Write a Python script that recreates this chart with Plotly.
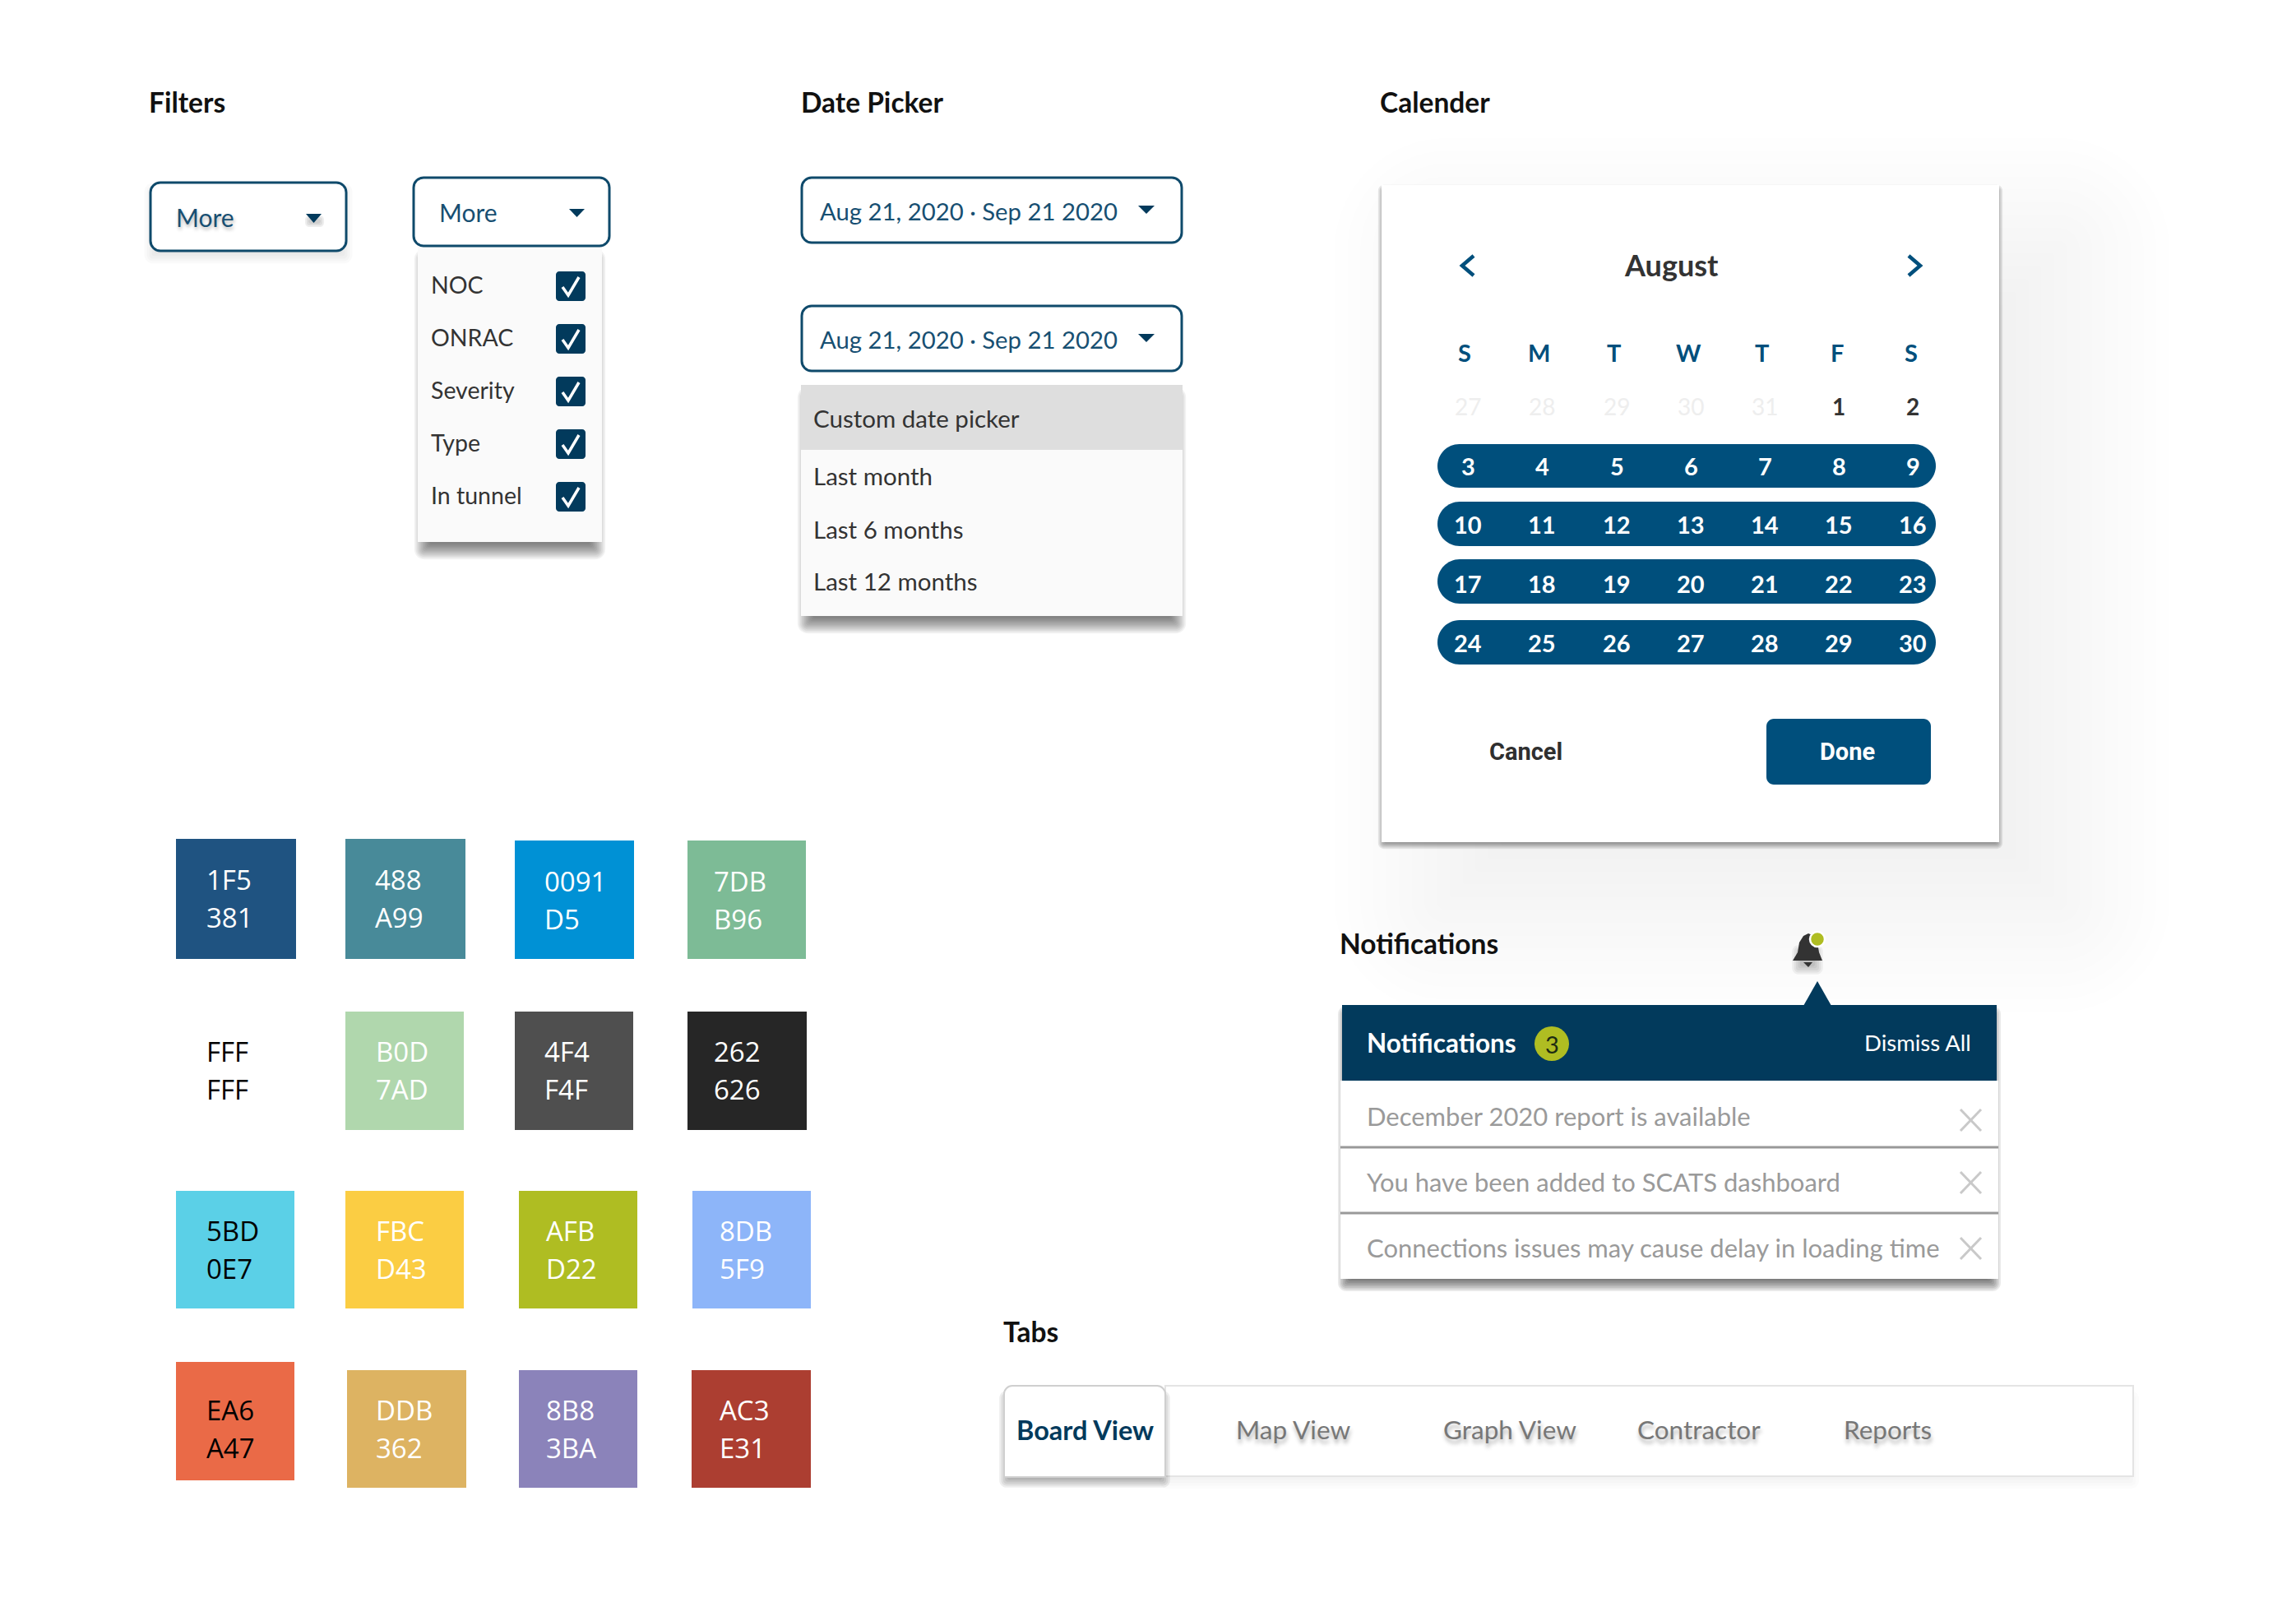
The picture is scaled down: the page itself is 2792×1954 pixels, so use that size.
import plotly.graph_objects as go

W = 2792
H = 1954

NAVY = "#023a5c"
BLUE = "#004f7c"
BORDER = "#0f4a6b"
SANS = "Lato"
ROBOTO = "Roboto"
SWATCH_FONT = "Open Sans"

swatch_labels = [
    ["1F5", "381"], ["488", "A99"], ["0091", "D5"], ["7DB", "B96"],
    ["FFF", "FFF"], ["B0D", "7AD"], ["4F4", "F4F"], ["262", "626"],
    ["5BD", "0E7"], ["FBC", "D43"], ["AFB", "D22"], ["8DB", "5F9"],
    ["EA6", "A47"], ["DDB", "362"], ["8B8", "3BA"], ["AC3", "E31"],
]
swatch_colors = [
    "#1F5381", "#488A99", "#0091D5", "#7DBB96",
    "#FFFFFF", "#B0D7AD", "#4F4F4F", "#262626",
    "#5BD0E7", "#FBCD43", "#AFBD22", "#8DB5F9",
    "#EA6A47", "#DDB362", "#8B83BA", "#AC3E31",
]
swatch_text_colors = [
    "#fff", "#fff", "#fff", "#fff",
    "#000", "#fff", "#fff", "#fff",
    "#000", "#fff", "#fff", "#fff",
    "#000", "#fff", "#fff", "#fff",
]
filter_items = ["NOC", "ONRAC", "Severity", "Type", "In tunnel"]
date_range = "Aug 21, 2020 · Sep 21 2020"
date_options = ["Custom date picker", "Last month", "Last 6 months", "Last 12 months"]
weekdays = ["S", "M", "T", "W", "T", "F", "S"]
prev_days = ["27", "28", "29", "30", "31", "1", "2"]
week_rows = [
    ["3", "4", "5", "6", "7", "8", "9"],
    ["10", "11", "12", "13", "14", "15", "16"],
    ["17", "18", "19", "20", "21", "22", "23"],
    ["24", "25", "26", "27", "28", "29", "30"],
]
notification_msgs = [
    "December 2020 report is available",
    "You have been added to SCATS dashboard",
    "Connections issues may cause delay in loading time",
]
tab_names = ["Board View", "Map View", "Graph View", "Contractor", "Reports"]

shapes = []
notes = []


def round_path(x0, y0, x1, y1, r, top_only=False):
    r = min(r, (x1 - x0) / 2, (y1 - y0) / 2)
    k = r * 0.45
    p = f"M{x0 + r},{y0} L{x1 - r},{y0} "
    p += f"C{x1 - k},{y0} {x1},{y0 + k} {x1},{y0 + r} "
    if top_only:
        p += f"L{x1},{y1} L{x0},{y1} "
    else:
        p += f"L{x1},{y1 - r} C{x1},{y1 - k} {x1 - k},{y1} {x1 - r},{y1} "
        p += f"L{x0 + r},{y1} C{x0 + k},{y1} {x0},{y1 - k} {x0},{y1 - r} "
    p += f"L{x0},{y0 + r} C{x0},{y0 + k} {x0 + k},{y0} {x0 + r},{y0} Z"
    return p


def box(x0, y0, x1, y1, fill, r=0, line=None, lw=0, top_only=False):
    shapes.append(dict(
        type="path", path=round_path(x0, y0, x1, y1, r, top_only), fillcolor=fill,
        line=dict(color=line or "rgba(0,0,0,0)", width=lw), xref="x", yref="y",
    ))


def poly(points, fill=None, line=None, lw=0):
    p = "M" + " L".join(f"{x},{y}" for x, y in points)
    if fill:
        p += " Z"
    shapes.append(dict(
        type="path", path=p, fillcolor=fill or "rgba(0,0,0,0)",
        line=dict(color=line or "rgba(0,0,0,0)", width=lw), xref="x", yref="y",
    ))


def soft_shadow(x0, y0, x1, y1, dx, dy, blur, strength, steps=12):
    a = strength / steps
    for i in range(steps):
        g = blur * (1 - 2 * (i + 0.5) / steps)
        box(x0 + dx - g, y0 + dy - g, x1 + dx + g, y1 + dy + g,
            f"rgba(0,0,0,{a:.4f})", r=max(g, 0) + 3)


def text(x, y, s, size, color="#333", font=SANS, bold=False, anchor="left", shadow=None):
    f = dict(family=font, size=size, color=color, weight=700 if bold else 400)
    if shadow:
        f["shadow"] = shadow
    # annotations carry a little padding, pull the text back onto the measured spot
    if anchor == "left":
        x = x - 3.5
    notes.append(dict(
        x=x, y=y - 2, text=s, xref="x", yref="y", showarrow=False,
        xanchor=anchor, yanchor="middle", font=f,
    ))


# calendar's big soft shadow goes first, everything else sits on it
# each layer has to stay above 1/255 alpha or the browser drops it
soft_shadow(1680, 225, 2431, 1024, 75, 75, 140, 0.072, steps=18)

# section titles
for tx, ty, name in [(182, 126, "Filters"), (975, 126, "Date Picker"), (1679, 126, "Calender"),
                     (1630, 1149, "Notifications"), (1221, 1621, "Tabs")]:
    text(tx, ty, name, 33.5, color="#111", bold=True)

# filter buttons
soft_shadow(183, 222, 421, 305, 0, 8, 9, 0.12, steps=6)
box(183, 222, 421, 305, "#fff", r=12, line=BORDER, lw=3)
text(215, 266, "More", 30, color="#174f72", shadow="1px 3px 4px rgba(0,0,0,0.3)")
soft_shadow(372, 260, 391, 270, 1, 4, 3, 0.2, steps=3)
poly([(372, 260), (391, 260), (381.5, 271)], fill=NAVY)

soft_shadow(513, 300, 727, 659, 0, 12, 10, 0.6, steps=12)
box(508, 300, 732, 659, "#fafafa")
box(503, 216, 741, 299, "#fff", r=12, line=BORDER, lw=3)
text(535, 260, "More", 30, color="#174f72")
poly([(692, 254), (711, 254), (701.5, 264)], fill=NAVY)

filter_ys = [348, 412, 476, 540, 604]
for item, fy in zip(filter_items, filter_ys):
    text(525, fy, item, 28.5, color="#333")
    box(676, fy - 18, 712, fy + 18, "#023a5c", r=4)
    poly([(684, fy + 1), (691, fy + 11), (704, fy - 11)], line="#fff", lw=3.5)

# date pickers
for by in [216, 372]:
    box(975, by, 1437, by + 79, "#fff", r=12, line=BORDER, lw=3)
    text(998, by + 42, date_range, 29.3, color="#174f72")
    poly([(1384, by + 34), (1404, by + 34), (1394, by + 44)], fill=NAVY)

soft_shadow(979, 468, 1433, 749, 0, 12, 10, 0.6, steps=12)
box(974, 468, 1438, 749, "#fafafa")
box(974, 468, 1438, 547, "#dedede")
for opt, oy in zip(date_options, [510, 580, 645, 708]):
    text(990, oy, opt, 29.5, color="#333")

# calendar card
soft_shadow(1680, 225, 2431, 1024, 0, 4, 5, 0.55, steps=6)
box(1680, 225, 2431, 1024, "#fff")
poly([(1792, 311), (1778, 323), (1792, 335)], line=BLUE, lw=4.5)
poly([(2321, 311), (2335, 323), (2321, 335)], line=BLUE, lw=4.5)
text(2032, 324, "August", 36, color="#333", bold=True, anchor="center")

day_xs = [1785, 1875, 1966, 2056, 2146, 2236, 2326]
head_xs = [1781, 1871, 1962, 2053, 2142, 2234, 2324]
for d, hx in zip(weekdays, head_xs):
    text(hx, 430, d, 29, color=BLUE, bold=True, anchor="center")
for i, (d, dx) in enumerate(zip(prev_days, day_xs)):
    text(dx, 496, d, 28, color="#eeeeee" if i < 5 else "#333", anchor="center", bold=i >= 5)

pill_ys = [(540, 593), (610, 664), (680, 734), (754, 808)]
pill_text_ys = [568, 639, 711, 783]
for row, (p0, p1), py in zip(week_rows, pill_ys, pill_text_ys):
    box(1748, p0, 2354, p1, BLUE, r=27)
    for d, dx in zip(row, day_xs):
        text(dx, py, d, 29, color="#fff", anchor="center", bold=True)

text(1855, 916, "Cancel", 29, color="#2f2f2f", font=ROBOTO, bold=True, anchor="center")
box(2148, 874, 2348, 954, BLUE, r=9)
text(2246, 916, "Done", 29, color="#fff", font=ROBOTO, bold=True, anchor="center")

# swatches
swatch_boxes = [
    (214, 1020, 360, 1166), (420, 1020, 566, 1166), (626, 1022, 771, 1166), (836, 1022, 980, 1166),
    (214, 1230, 358, 1374), (420, 1230, 564, 1374), (626, 1230, 770, 1374), (836, 1230, 981, 1374),
    (214, 1448, 358, 1591), (420, 1448, 564, 1591), (631, 1448, 775, 1591), (842, 1448, 986, 1591),
    (214, 1656, 358, 1800), (422, 1666, 567, 1809), (631, 1666, 775, 1809), (841, 1666, 986, 1809),
]
swatch_text_xs = [252, 457, 663, 869, 252, 458, 663, 869, 252, 458, 665, 876, 252, 458, 665, 876]
swatch_text_ys = [1071, 1071, 1073, 1073, 1280, 1280, 1280, 1280, 1498, 1498, 1498, 1498, 1716, 1716, 1716, 1716]
for bx, c, lab, tc, lx, ly in zip(swatch_boxes, swatch_colors, swatch_labels, swatch_text_colors,
                                  swatch_text_xs, swatch_text_ys):
    box(bx[0], bx[1], bx[2], bx[3], c)
    text(lx, ly, lab[0], 33, color=tc, font=SWATCH_FONT)
    text(lx, ly + 46, lab[1], 33, color=tc, font=SWATCH_FONT)

# bell
soft_shadow(2184, 1146, 2212, 1172, 0, 8, 6, 0.25, steps=5)
poly([(2180, 1168), (2186, 1158), (2188, 1146), (2193, 1138), (2199, 1135), (2206, 1138), (2210, 1146),
      (2212, 1158), (2216, 1168)], fill="#333")
poly([(2193, 1170), (2204, 1170), (2199, 1176)], fill="#333")
shapes.append(dict(type="circle", x0=2201, y0=1133, x1=2219, y1=1151, fillcolor="#AFBD22",
                   line=dict(color="#fff", width=2.5), xref="x", yref="y"))

# notifications
soft_shadow(1634, 1222, 2426, 1555, 0, 8, 8, 0.7, steps=8)
box(1630, 1314, 2430, 1555, "#fff")
poly([(2193, 1223), (2210, 1193), (2227, 1223)], fill=NAVY)
box(1632, 1222, 2428, 1314, NAVY)
text(1663, 1270, "Notifications", 31.5, color="#fff", bold=True)
shapes.append(dict(type="circle", x0=1866, y0=1248, x1=1908, y1=1290, fillcolor="#AFBD22",
                   line=dict(width=0), xref="x", yref="y"))
text(1887, 1271, "3", 29, color="#1d2b12", anchor="center")
text(2399, 1269, "Dismiss All", 27.5, color="#fff", anchor="right")
for sep_y in [1395, 1475]:
    poly([(1630, sep_y), (2430, sep_y)], line="#999", lw=3)
msg_ys = [1359, 1439, 1519]
x_ys = [1362, 1438, 1518]
for msg, my, xy in zip(notification_msgs, msg_ys, x_ys):
    text(1663, my, msg, 31, color="#9a9a9a")
    poly([(2384, xy - 13), (2409, xy + 13)], line="#c9c9c9", lw=3)
    poly([(2409, xy - 13), (2384, xy + 13)], line="#c9c9c9", lw=3)

# tabs
soft_shadow(1417, 1690, 2594, 1795, 0, 8, 9, 0.06, steps=5)
box(1417, 1685, 2594, 1795, "#fff", line="#e4e4e4", lw=2)
soft_shadow(1221, 1690, 1417, 1796, 0, 7, 7, 0.4, steps=6)
box(1221, 1685, 1417, 1796, "#fff", r=10, line="#cfcfcf", lw=2, top_only=True)
tab_xs = [1237, 1504, 1756, 1992, 2243]
for i, (name, tx) in enumerate(zip(tab_names, tab_xs)):
    if i == 0:
        text(tx, 1740, name, 32.5, color=NAVY, bold=True)
    else:
        text(tx, 1740, name, 31.5, color="#777", shadow="1px 5px 5px rgba(0,0,0,0.3)")

fig = go.Figure()
fig.update_layout(
    width=W, height=H, margin=dict(l=0, r=0, t=0, b=0),
    paper_bgcolor="#fff", plot_bgcolor="#fff", showlegend=False,
    xaxis=dict(range=[0, W], visible=False, fixedrange=True),
    yaxis=dict(range=[H, 0], visible=False, fixedrange=True),
    shapes=shapes, annotations=notes,
)
fig.write_html("out.html", config=dict(displayModeBar=False),
               post_script="document.body.style.margin='0';")
